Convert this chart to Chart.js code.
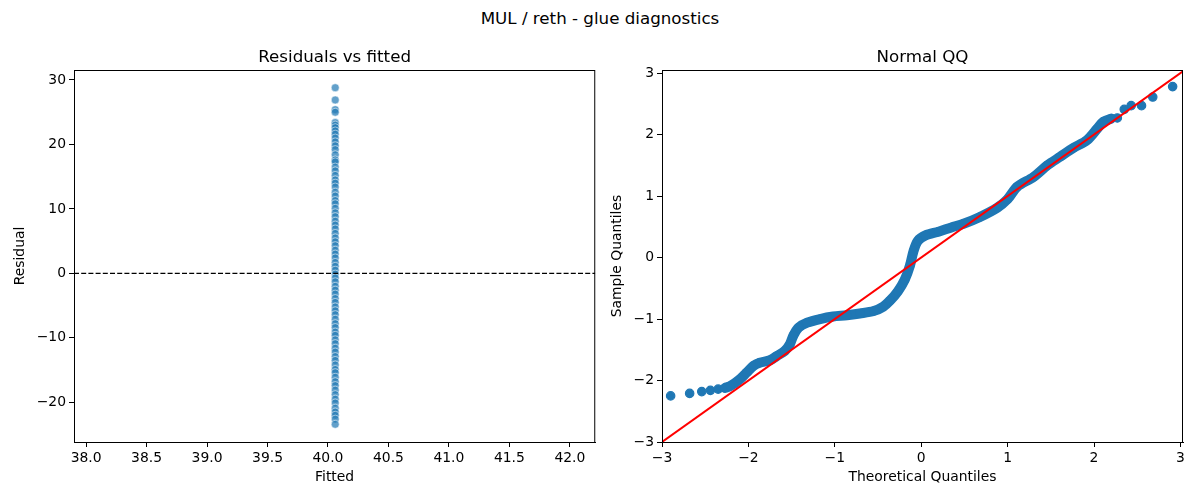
<!DOCTYPE html>
<html>
<head>
<meta charset="utf-8">
<script src="https://cdn.jsdelivr.net/npm/chart.js@4.4.1/dist/chart.umd.min.js"></script>
<style>
  html, body { margin: 0; padding: 0; background: #fff; }
  #wrap { position: relative; width: 1200px; height: 500px; font-family: "DejaVu Sans", sans-serif; }
  #suptitle { position: absolute; left: 0; top: 7px; width: 1200px; text-align: center; font-size: 16.7px; line-height: 22px; color: #000; }
  .panel { position: absolute; top: 0; width: 600px; height: 500px; }
</style>
</head>
<body>
<div id="wrap">
  <div id="suptitle">MUL / reth - glue diagnostics</div>
  <div class="panel" style="left:0"><canvas id="residChart" width="600" height="500"></canvas></div>
  <div class="panel" style="left:600px"><canvas id="qqChart" width="600" height="500"></canvas></div>
</div>
<script>
// Residuals vs fitted (all observations share one fitted value)
const fittedValue = 40.06;
const residuals = [
  28.8, 26.9, 25.4, 25.0, 23.4, 23.0, 22.6, 22.1, 21.6, 21.0, 20.4, 19.8, 19.2, 18.4,
  17.6, 17.3, 16.5, 15.9, 15.2, 14.5, 14.0, 13.4, 12.6, 12.0, 11.3, 10.8, 10.1, 9.4,
  8.8, 8.1, 7.5, 6.9, 6.2, 5.5, 4.9, 4.3, 3.6, 3.0, 2.4, 1.7, 1.1, 0.5, -0.1, -0.7,
  -1.3, -2.0, -2.6, -3.2, -3.9, -4.5, -5.2, -5.8, -6.4, -7.1, -7.8, -8.4, -9.1, -9.6,
  -10.3, -10.9, -11.6, -12.2, -12.9, -13.5, -14.2, -14.9, -15.4, -16.1, -16.8, -17.4,
  -18.1, -18.8, -19.5, -20.1, -20.9, -21.5, -22.0, -22.6, -23.4
];
const residXLimits = [37.90, 42.21];
const residYLimits = [-26.15, 31.55];
const residXTicks = [38.0, 38.5, 39.0, 39.5, 40.0, 40.5, 41.0, 41.5, 42.0];
const residYTicks = [-20, -10, 0, 10, 20, 30];

// Normal QQ: isolated tail points and the dense middle band
const qqLowTheo = [-2.90, -2.68, -2.54, -2.44, -2.35];
const qqLowSample = [-2.25, -2.21, -2.18, -2.16, -2.14];
const qqBandTheo = [
  -2.27, -2.21, -2.10, -2.02, -1.94, -1.87, -1.75, -1.67, -1.58, -1.52, -1.48, -1.42,
  -1.32, -1.17, -1.02, -0.86, -0.71, -0.55, -0.44, -0.36, -0.27, -0.19, -0.13, -0.09,
  -0.04, 0.05, 0.20, 0.35, 0.49, 0.68, 0.88, 1.00, 1.11, 1.30, 1.46, 1.61, 1.76, 1.92,
  2.04, 2.11, 2.20
];
const qqBandSample = [
  -2.12, -2.09, -1.98, -1.87, -1.76, -1.71, -1.67, -1.60, -1.52, -1.41, -1.27, -1.14,
  -1.06, -1.00, -0.96, -0.94, -0.91, -0.87, -0.80, -0.70, -0.55, -0.36, -0.13, 0.10,
  0.27, 0.36, 0.42, 0.49, 0.55, 0.66, 0.81, 0.95, 1.15, 1.31, 1.50, 1.64, 1.78, 1.91,
  2.10, 2.21, 2.26
];
const qqHighTheo = [2.27, 2.35, 2.43, 2.55, 2.68, 2.91];
const qqHighSample = [2.27, 2.41, 2.47, 2.47, 2.61, 2.78];
const qqLineEnds = [-3.0, 3.05];
const qqXLimits = [-3.0, 3.03];
const qqYLimits = [-3.0, 3.05];
const qqTicks = [-3, -2, -1, 0, 1, 2, 3];

const BLUE = "#1f77b4";
const FONT = "DejaVu Sans";
const minus = (v) => String(v).replace("-", "\u2212");

Chart.defaults.font.family = FONT;
Chart.defaults.font.size = 13.9;
Chart.defaults.color = "#000";

const zip = (xs, ys) => xs.map((x, i) => ({ x: x, y: ys[i] }));

// draws the subplot title and the four spines
const framePlugin = {
  id: "frame",
  afterDraw(chart, args, opts) {
    const { ctx, chartArea } = chart;
    ctx.save();
    ctx.strokeStyle = "#000";
    ctx.lineWidth = 1;
    ctx.strokeRect(chartArea.left + 0.5, chartArea.top + 0.5,
      chartArea.right - chartArea.left - 1, chartArea.bottom - chartArea.top);
    ctx.fillStyle = "#000";
    ctx.font = "16.7px " + FONT;
    ctx.textAlign = "center";
    ctx.textBaseline = "alphabetic";
    ctx.fillText(opts.text, (chartArea.left + chartArea.right) / 2, chartArea.top - 8);
    ctx.restore();
  },
};

function axis(limits, ticks, title, fmt, size, titlePad) {
  return {
    type: "linear",
    min: limits[0],
    max: limits[1],
    afterBuildTicks: (scale) => { scale.ticks = ticks.map((v) => ({ value: v })); },
    afterFit: (scale) => {
      if (scale.isHorizontal()) scale.height = size; else scale.width = size;
    },
    grid: { drawOnChartArea: false, drawTicks: true, tickLength: 5, color: "#000", tickWidth: 1 },
    border: { display: true, color: "#000", width: 1 },
    ticks: { padding: 3, color: "#000", callback: (v) => fmt(v), maxRotation: 0, autoSkip: false },
    title: { display: true, text: title, color: "#000", font: { size: 13.9 }, padding: titlePad },
  };
}

new Chart(document.getElementById("residChart"), {
  type: "scatter",
  plugins: [framePlugin],
  data: {
    datasets: [
      {
        type: "line",
        data: [{ x: residXLimits[0], y: 0 }, { x: residXLimits[1], y: 0 }],
        borderColor: "#000",
        borderWidth: 1.1,
        borderDash: [5, 2.2],
        pointRadius: 0,
        order: 0,
      },
      {
        data: residuals.map((r) => ({ x: fittedValue, y: r })),
        backgroundColor: "rgba(31,119,180,0.7)",
        borderColor: "rgba(255,255,255,0.7)",
        borderWidth: 0.75,
        pointRadius: 4,
        order: 1,
      },
    ],
  },
  options: {
    responsive: false,
    animation: false,
    devicePixelRatio: 1,
    layout: { padding: { top: 70, left: 0, right: 4, bottom: 0 } },
    plugins: { legend: { display: false }, tooltip: { enabled: false }, frame: { text: "Residuals vs fitted" } },
    scales: {
      x: axis(residXLimits, residXTicks, "Fitted", (v) => v.toFixed(1), 58, { top: 0, bottom: 14 }),
      y: axis(residYLimits, residYTicks, "Residual", (v) => minus(v), 74, { top: 12, bottom: 0 }),
    },
  },
});

new Chart(document.getElementById("qqChart"), {
  type: "scatter",
  plugins: [framePlugin],
  data: {
    datasets: [
      {
        type: "line",
        data: zip(qqLineEnds, qqLineEnds),
        borderColor: "#ff0000",
        borderWidth: 2,
        pointRadius: 0,
        order: 0,
      },
      {
        type: "line",
        data: zip(qqBandTheo, qqBandSample),
        borderColor: BLUE,
        backgroundColor: BLUE,
        borderWidth: 10,
        borderCapStyle: "round",
        borderJoinStyle: "round",
        tension: 0.3,
        pointRadius: 4.6,
        pointBorderWidth: 0,
        order: 1,
      },
      {
        data: zip(qqLowTheo.concat(qqHighTheo), qqLowSample.concat(qqHighSample)),
        backgroundColor: BLUE,
        borderColor: BLUE,
        borderWidth: 1.2,
        pointRadius: 4.2,
        order: 2,
      },
    ],
  },
  options: {
    responsive: false,
    animation: false,
    devicePixelRatio: 1,
    layout: { padding: { top: 70, left: 0, right: 17, bottom: 0 } },
    plugins: { legend: { display: false }, tooltip: { enabled: false }, frame: { text: "Normal QQ" } },
    scales: {
      x: axis(qqXLimits, qqTicks, "Theoretical Quantiles", (v) => minus(v), 58, { top: 0, bottom: 14 }),
      y: axis(qqYLimits, qqTicks, "Sample Quantiles", (v) => minus(v), 62, { top: 9, bottom: 0 }),
    },
  },
});
</script>
</body>
</html>
